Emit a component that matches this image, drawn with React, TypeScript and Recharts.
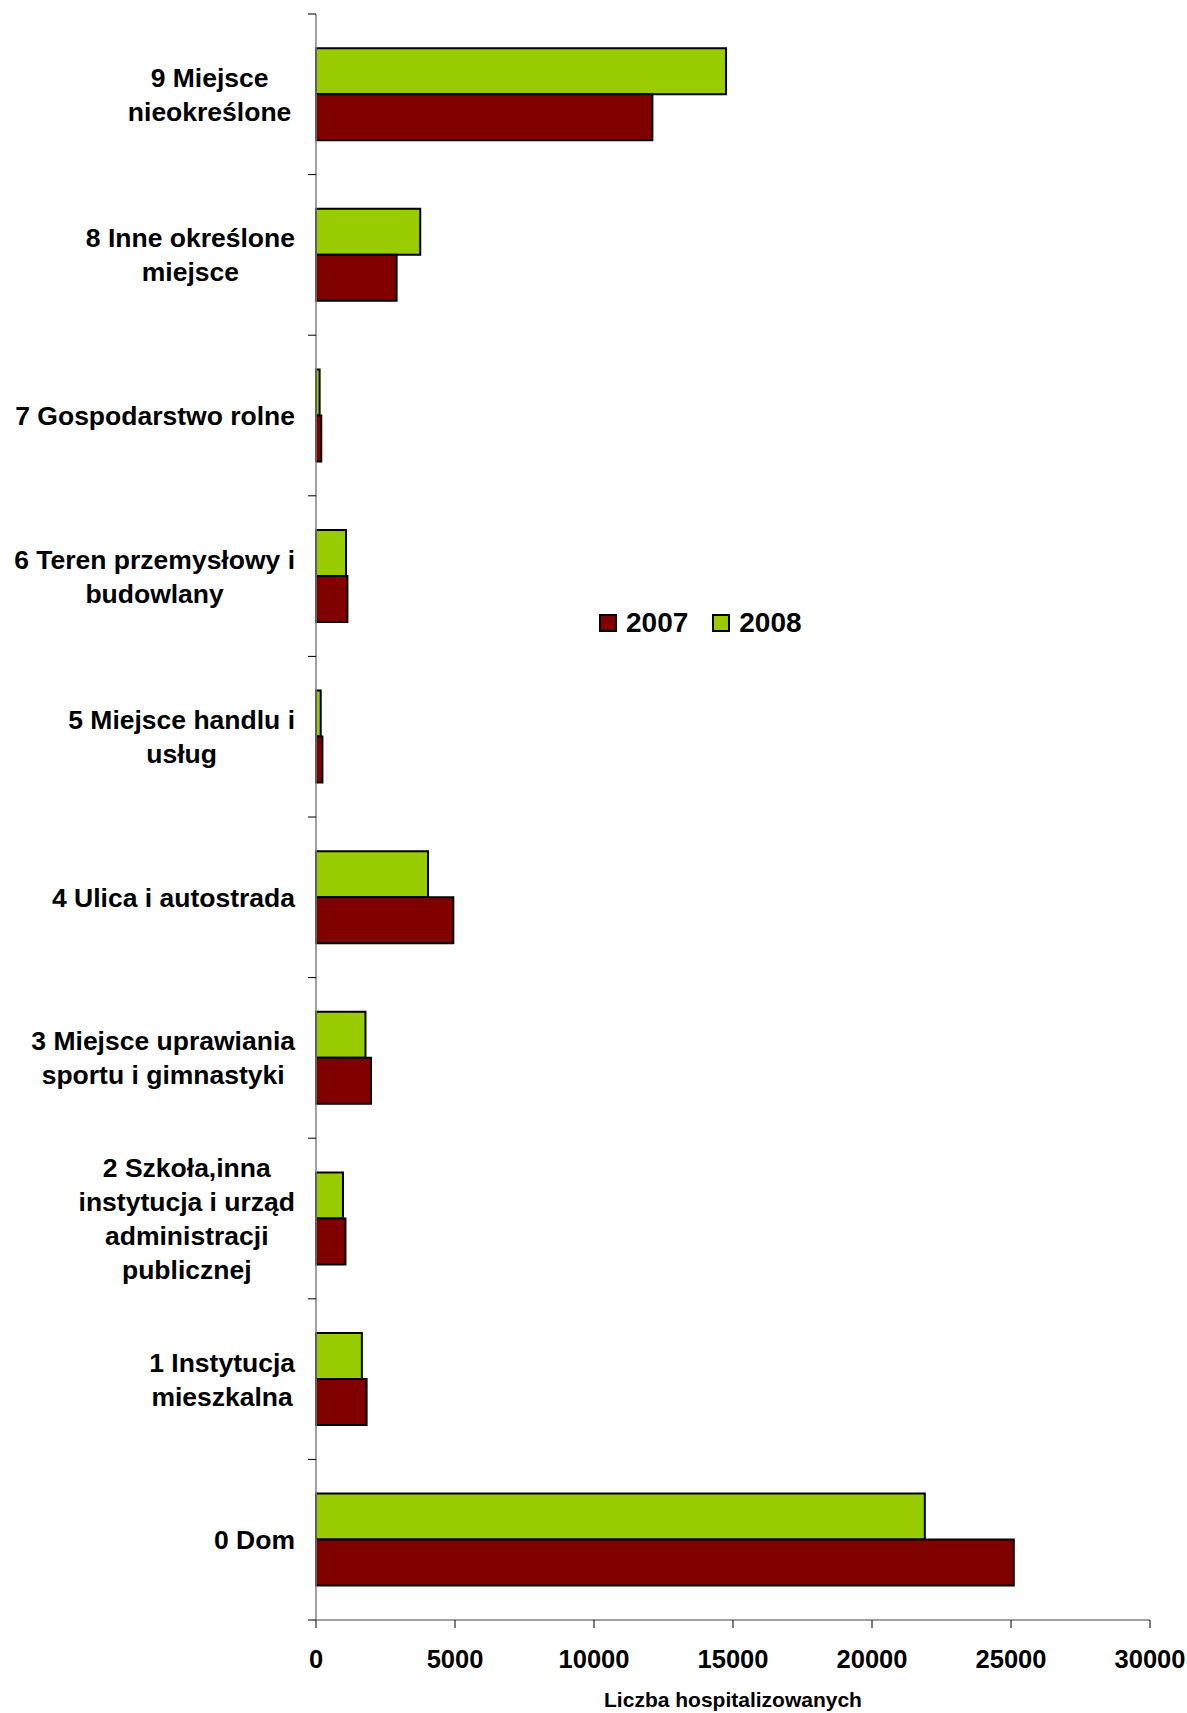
import React from 'react';
import { BarChart, Bar, XAxis, YAxis, Legend } from 'recharts';

// ---- data (top to bottom as drawn) ----
const categories: string[] = [
  '9 Miejsce\nnieokreślone ',
  '8 Inne określone\nmiejsce',
  '7 Gospodarstwo rolne',
  '6 Teren przemysłowy i\nbudowlany',
  '5 Miejsce handlu i\nusług',
  '4 Ulica i autostrada',
  '3 Miejsce uprawiania\nsportu i gimnastyki ',
  '2 Szkoła,inna\ninstytucja i urząd\nadministracji\npublicznej',
  '1 Instytucja\nmieszkalna',
  '0 Dom',
];
const values2008: number[] = [14750, 3750, 130, 1080, 170, 4030, 1780, 970, 1650, 21900];
const values2007: number[] = [12100, 2900, 190, 1130, 230, 4940, 1980, 1060, 1820, 25100];
const xTicks: number[] = [0, 5000, 10000, 15000, 20000, 25000, 30000];
const series = [
  { key: 'y2008', name: '2008', color: '#99CC00' },
  { key: 'y2007', name: '2007', color: '#800000' },
];
const xAxisTitle = 'Liczba hospitalizowanych';

const data = categories.map((c, i) => ({ category: c, y2008: values2008[i], y2007: values2007[i] }));

// ---- layout ----
const W = 1187;
const H = 1713;
const MARGIN = { top: 14, right: 37, left: 0, bottom: 0 };
const X_AXIS_H = 93;
const Y_AXIS_W = 316;
const PLOT_H = H - MARGIN.top - MARGIN.bottom - X_AXIS_H;
const BAND = PLOT_H / categories.length;
const TICK_SIZE = 8;
const TICK_MARGIN = 13;
const FONT = '"Liberation Sans", Arial, sans-serif';
const CAT_FONT_SIZE = 26.5;
const LINE_H = 34;

let ctx: CanvasRenderingContext2D | null = null;
function measure(text: string): number {
  if (!ctx) {
    const c = document.createElement('canvas');
    ctx = c.getContext('2d');
  }
  if (!ctx) return text.length * CAT_FONT_SIZE * 0.55;
  ctx.font = `bold ${CAT_FONT_SIZE}px "Liberation Sans", Arial, sans-serif`;
  return ctx.measureText(text).width;
}

function CategoryTick(props: any) {
  const { x, y, payload, index } = props;
  const lines = String(payload.value).split('\n');
  const maxW = Math.max(...lines.map(measure));
  const cx = x - maxW / 2;
  const startY = y - ((lines.length - 1) * LINE_H) / 2;
  const axisX = x + TICK_SIZE + TICK_MARGIN;
  const isLast = index === categories.length - 1;
  return (
    <g>
      <line x1={axisX - TICK_SIZE} x2={axisX} y1={y - BAND / 2} y2={y - BAND / 2} stroke="#000" strokeWidth={1} />
      {isLast && (
        <line x1={axisX - TICK_SIZE} x2={axisX} y1={y + BAND / 2} y2={y + BAND / 2} stroke="#000" strokeWidth={1} />
      )}
      <text
        textAnchor="middle"
        fontFamily={FONT}
        fontWeight="bold"
        fontSize={CAT_FONT_SIZE}
        fill="#000"
      >
        {lines.map((l, i) => (
          <tspan key={i} x={cx} y={startY + i * LINE_H} dy="0.36em">
            {l.trim()}
          </tspan>
        ))}
      </text>
    </g>
  );
}

function LegendContent(props: any) {
  const items = [...(props.payload || [])].sort((a: any, b: any) =>
    String(a.value).localeCompare(String(b.value))
  );
  return (
    <div style={{ display: 'flex', alignItems: 'center', fontFamily: FONT, fontWeight: 'bold', fontSize: 28 }}>
      {items.map((it: any, i: number) => {
        const s = series.find((q) => q.name === String(it.value));
        const color = s ? s.color : it.color;
        return (
          <div key={i} style={{ display: 'flex', alignItems: 'center', marginRight: i < items.length - 1 ? 24 : 0 }}>
            <span
              style={{
                display: 'inline-block',
                width: 14,
                height: 14,
                background: color,
                border: '2px solid #000',
                marginRight: 9,
              }}
            />
            <span style={{ lineHeight: '28px', color: '#000' }}>{it.value}</span>
          </div>
        );
      })}
    </div>
  );
}

export default function App() {
  return (
    <div style={{ position: 'absolute', left: 0, top: 0, width: W, height: H, background: '#fff' }}>
      <BarChart
        width={W}
        height={H}
        data={data}
        layout="vertical"
        margin={MARGIN}
        barCategoryGap="21.3%"
        barGap={0}
      >
        <XAxis
          type="number"
          domain={[0, 30000]}
          ticks={xTicks}
          interval={0}
          height={X_AXIS_H}
          axisLine={{ stroke: '#808080', strokeWidth: 1.5 }}
          tickLine={{ stroke: '#000', strokeWidth: 1 }}
          tickSize={TICK_SIZE}
          tickMargin={22}
          tick={{ fill: '#000', fontSize: 25.5, fontWeight: 'bold', fontFamily: FONT }}
          label={{
            value: xAxisTitle,
            position: 'insideBottom',
            offset: 6,
            fill: '#000',
            fontSize: 21,
            fontWeight: 'bold',
            fontFamily: FONT,
          }}
        />
        <YAxis
          type="category"
          dataKey="category"
          width={Y_AXIS_W}
          interval={0}
          axisLine={{ stroke: '#808080', strokeWidth: 1.5 }}
          tickLine={false}
          tickSize={TICK_SIZE}
          tickMargin={TICK_MARGIN}
          tick={<CategoryTick />}
        />
        <Legend
          layout="horizontal"
          verticalAlign="middle"
          align="center"
          content={<LegendContent />}
          wrapperStyle={{ left: 599, top: 609, width: 'auto' }}
        />
        {series.map((s) => (
          <Bar
            key={s.key}
            dataKey={s.key}
            name={s.name}
            fill={s.color}
            stroke="#000"
            strokeWidth={2}
            isAnimationActive={false}
          />
        ))}
      </BarChart>
    </div>
  );
}
